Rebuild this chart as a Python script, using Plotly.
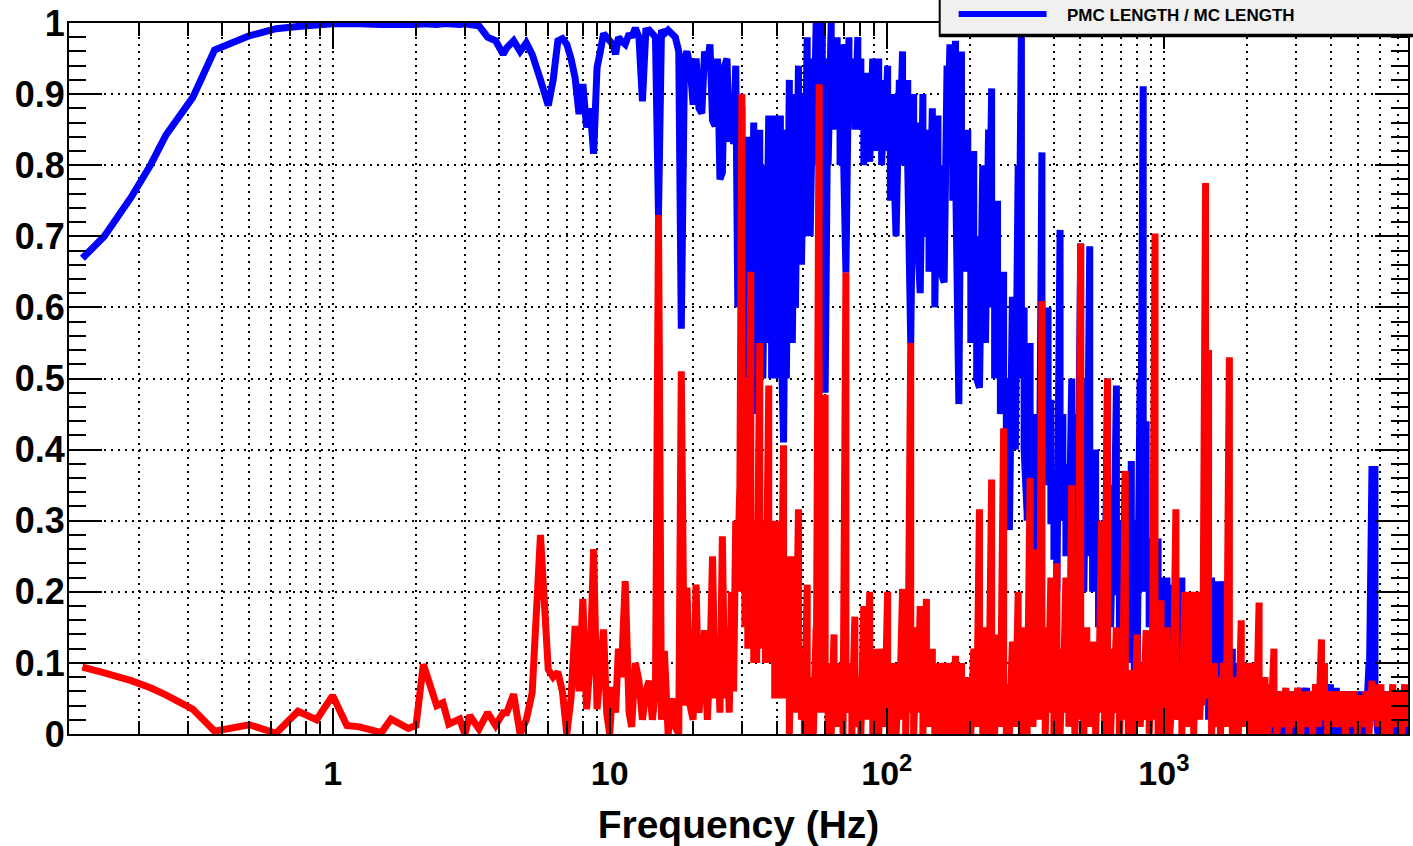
import plotly.graph_objects as go

# ---------------- data ----------------
# Low band (0.125 - 6.75 Hz)
FREQ_LOW = [0.125, 0.15, 0.1875, 0.22, 0.25, 0.3125, 0.375, 0.5, 0.625, 0.75,
            0.875, 1.0, 1.125, 1.25, 1.5, 1.625, 1.875, 2.0, 2.125, 2.375,
            2.5, 2.625, 2.875, 3.0, 3.125, 3.375, 3.625, 3.875, 4.125, 4.25,
            4.5, 4.75, 5.0, 5.25, 5.625, 6.0, 6.25, 6.5, 6.75]
BLUE_LOW = [0.669, 0.70, 0.755, 0.80, 0.842, 0.895, 0.962, 0.982, 0.992, 0.995,
            0.997, 0.999, 0.999, 0.999, 0.998, 0.998, 0.998, 0.998, 0.999, 0.998,
            0.999, 0.999, 0.998, 0.999, 0.998, 0.996, 0.98, 0.975, 0.956, 0.965,
            0.975, 0.96, 0.972, 0.956, 0.92, 0.884, 0.92, 0.975, 0.978]
RED_LOW = [0.094, 0.086, 0.075, 0.065, 0.055, 0.035, 0.004, 0.013, 0.001, 0.032,
           0.02, 0.054, 0.012, 0.01, 0.002, 0.021, 0.008, 0.012, 0.098, 0.04,
           0.044, 0.014, 0.021, 0.0, 0.026, 0.007, 0.03, 0.012, 0.03, 0.03,
           0.056, 0.0, 0.02, 0.058, 0.28, 0.091, 0.08, 0.087, 0.06]

# Middle band (7 - 29.5 Hz)
FREQ_MID = [7.0, 7.25, 7.5, 7.75, 8.0, 8.25, 8.5, 8.75, 9.0, 9.25,
            9.5, 9.75, 10.0, 10.25, 10.5, 10.75, 11.0, 11.375, 11.75, 12.0,
            12.375, 12.75, 13.125, 13.5, 13.875, 14.25, 14.625, 15.0, 15.375, 15.75,
            16.25, 16.75, 17.25, 17.75, 18.125, 18.625, 19.0, 19.5, 20.0, 20.5,
            21.0, 21.5, 22.0, 22.5, 23.0, 23.5, 24.0, 24.5, 25.0, 25.5,
            26.0, 26.5, 27.0, 27.5, 28.0, 28.5, 29.0, 29.5]
BLUE_MID = [0.97, 0.95, 0.923, 0.872, 0.914, 0.853, 0.88, 0.816, 0.937, 0.96,
            0.985, 0.98, 0.975, 0.97, 0.956, 0.98, 0.975, 0.97, 0.985, 0.98,
            0.993, 0.98, 0.89, 0.989, 0.99, 0.985, 0.98, 0.73, 0.99, 0.985,
            0.99, 0.985, 0.98, 0.96, 0.57, 0.95, 0.96, 0.94, 0.885, 0.95,
            0.88, 0.873, 0.96, 0.94, 0.97, 0.863, 0.855, 0.95, 0.78, 0.79,
            0.94, 0.95, 0.833, 0.87, 0.83, 0.94, 0.6, 0.9]
RED_MID = [0.0, 0.05, 0.152, 0.06, 0.19, 0.035, 0.1, 0.26, 0.035, 0.09,
           0.147, 0.03, 0.0, 0.066, 0.03, 0.12, 0.08, 0.215, 0.03, 0.01,
           0.1, 0.075, 0.02, 0.06, 0.075, 0.02, 0.06, 0.73, 0.02, 0.117,
           0.0, 0.05, 0.01, 0.0, 0.51, 0.04, 0.206, 0.04, 0.02, 0.21,
           0.03, 0.08, 0.146, 0.02, 0.1, 0.25, 0.05, 0.12, 0.03, 0.278,
           0.05, 0.15, 0.03, 0.2, 0.06, 0.3, 0.24, 0.35]

# High band (30 Hz - 7.6 kHz): dense bins, each read as a local maximum and a local minimum
FREQ_HIGH = [30, 30.75, 31.5, 32.3, 33.1, 33.9, 34.8, 35.7, 36.5, 37.5,
             38.4, 39.4, 40.3, 41.3, 42.4, 43.4, 44.5, 45.6, 46.8, 48.0,
             49.2, 50.4, 51.6, 52.9, 54.3, 55.6, 57.0, 58.5, 59.9, 61.4,
             63.0, 64.5, 66.2, 67.8, 69.5, 71.2, 73.0, 74.8, 76.7, 78.6,
             80.6, 82.6, 84.7, 86.8, 89.0, 91.2, 93.5, 95.8, 98.2, 100.7,
             103, 106, 108, 111, 114, 117, 119, 122, 125, 129,
             132, 135, 139, 142, 146, 149, 153, 157, 161, 165,
             169, 173, 177, 182, 186, 191, 196, 201, 206, 211,
             216, 222, 227, 233, 239, 245, 251, 257, 264, 270,
             277, 284, 291, 298, 306, 313, 321, 329, 337, 346,
             355, 363, 373, 382, 391, 401, 411, 422, 432, 443,
             454, 465, 477, 489, 501, 514, 527, 540, 553, 567,
             581, 596, 611, 626, 642, 658, 674, 691, 708, 726,
             744, 763, 782, 801, 821, 842, 863, 885, 907, 929,
             953, 976, 1001, 1026, 1051, 1078, 1105, 1132, 1161, 1190,
             1219, 1250, 1281, 1313, 1346, 1380, 1414, 1450, 1486, 1523,
             1561, 1600, 1640, 1681, 1723, 1766, 1811, 1856, 1902, 1950,
             1999, 2049, 2100, 2152, 2206, 2261, 2318, 2376, 2435, 2496,
             2558, 2622, 2688, 2755, 2824, 2895, 2967, 3041, 3117, 3195,
             3275, 3357, 3441, 3527, 3615, 3705, 3798, 3893, 3990, 4090,
             4192, 4297, 4404, 4514, 4627, 4743, 4861, 4983, 5107, 5235,
             5366, 5500, 5637, 5778, 5923, 6071, 6223, 6378, 6538, 6701,
             6869, 7040, 7216, 7397, 7582]
BLUE_HIGH_MAX = [0.88, 0.8, 0.84, 0.78, 0.86, 0.81, 0.85, 0.8, 0.8, 0.87,
                 0.8, 0.87, 0.82, 0.87, 0.41, 0.85, 0.92, 0.86, 0.9, 0.94,
                 0.9, 0.9, 0.98, 0.9, 0.95, 1.0, 0.95, 1.0, 0.48, 0.95,
                 1.0, 0.95, 0.98, 0.9, 0.97, 0.649, 0.98, 0.95, 0.92, 0.98,
                 0.95, 0.9, 0.93, 0.805, 0.95, 0.9, 0.95, 0.88, 0.92, 0.94,
                 0.85, 0.9, 0.70, 0.92, 0.96, 0.9, 0.92, 0.55, 0.9, 0.86,
                 0.62, 0.9, 0.85, 0.71, 0.88, 0.8, 0.87, 0.8, 0.635, 0.94,
                 0.97, 0.9, 0.975, 0.464, 0.96, 0.8, 0.85, 0.75, 0.82, 0.7,
                 0.487, 0.8, 0.75, 0.85, 0.908, 0.7, 0.75, 0.6, 0.65, 0.5,
                 0.287, 0.615, 0.6, 0.8, 0.99, 0.6, 0.31, 0.55, 0.45, 0.4,
                 0.45, 0.818, 0.45, 0.6, 0.47, 0.3, 0.25, 0.709, 0.45, 0.35,
                 0.38, 0.5, 0.2, 0.45, 0.69, 0.37, 0.5, 0.686, 0.3, 0.4,
                 0.26, 0.3, 0.2, 0.5, 0.25, 0.35, 0.49, 0.2, 0.3, 0.37,
                 0.26, 0.384, 0.1, 0.3, 0.5, 0.911, 0.44, 0.275, 0.26, 0.275,
                 0.275, 0.22, 0.15, 0.22, 0.21, 0.1, 0.22, 0.05, 0.22, 0.17,
                 0.05, 0.18, 0.05, 0.18, 0.1, 0.18, 0.18, 0.05, 0.22, 0.04,
                 0.215, 0.06, 0.215, 0.1, 0.12, 0.12, 0.03, 0.1, 0.1, 0.04,
                 0.1, 0.02, 0.08, 0.02, 0.08, 0.08, 0.02, 0.07, 0.03, 0.06,
                 0.06, 0.0, 0.06, 0.01, 0.06, 0.0, 0.06, 0.02, 0.065, 0.0,
                 0.065, 0.0, 0.06, 0.02, 0.06, 0.03, 0.06, 0.01, 0.07, 0.0,
                 0.065, 0.0, 0.06, 0.02, 0.06, 0.0, 0.06, -0.01, 0.06, 0.0,
                 0.06, 0.1, 0.377, 0.377, 0.0, 0.06, 0.01, 0.06, 0.0, 0.06,
                 0.0, 0.06, 0.0, 0.06, 0.02]
BLUE_HIGH_MIN = [0.6, 0.5, 0.55, 0.5, 0.45, 0.55, 0.5, 0.5, 0.55, 0.55,
                 0.5, 0.55, 0.5, 0.6, 0.41, 0.5, 0.6, 0.55, 0.6, 0.66,
                 0.66, 0.7, 0.75, 0.7, 0.8, 0.85, 0.9, 0.9, 0.48, 0.8,
                 0.85, 0.85, 0.9, 0.8, 0.85, 0.649, 0.9, 0.88, 0.85, 0.9,
                 0.85, 0.8, 0.85, 0.805, 0.85, 0.82, 0.85, 0.8, 0.82, 0.85,
                 0.75, 0.8, 0.70, 0.8, 0.85, 0.8, 0.8, 0.55, 0.75, 0.7,
                 0.62, 0.75, 0.7, 0.65, 0.75, 0.6, 0.7, 0.65, 0.635, 0.8,
                 0.85, 0.75, 0.8, 0.464, 0.8, 0.65, 0.7, 0.55, 0.6, 0.5,
                 0.487, 0.6, 0.55, 0.6, 0.7, 0.5, 0.55, 0.45, 0.45, 0.35,
                 0.287, 0.45, 0.4, 0.5, 0.55, 0.4, 0.3, 0.35, 0.3, 0.25,
                 0.3, 0.4, 0.35, 0.35, 0.3, 0.25, 0.2, 0.3, 0.3, 0.25,
                 0.25, 0.3, 0.15, 0.25, 0.3, 0.2, 0.25, 0.3, 0.2, 0.2,
                 0.15, 0.2, 0.1, 0.2, 0.15, 0.2, 0.2, 0.1, 0.15, 0.2,
                 0.1, 0.2, 0.05, 0.1, 0.2, 0.3, 0.2, 0.15, 0.15, 0.1,
                 0.1, 0.1, 0.05, 0.1, 0.1, 0.05, 0.1, 0.02, 0.1, 0.05,
                 0.02, 0.05, 0.02, 0.05, 0.03, 0.05, 0.05, 0.02, 0.05, 0.01,
                 0.05, 0.02, 0.05, 0.03, 0.03, 0.03, 0.01, 0.03, 0.02, 0.01,
                 0.02, 0.0, 0.02, 0.0, 0.02, 0.02, 0.0, 0.02, 0.0, 0.01,
                 0.01, -0.01, 0.01, 0.0, 0.01, -0.01, 0.01, 0.0, 0.01, -0.01,
                 0.01, -0.01, 0.01, 0.0, 0.01, 0.0, 0.01, -0.01, 0.01, -0.01,
                 0.01, -0.01, 0.01, 0.0, 0.01, -0.01, 0.01, -0.01, 0.01, -0.01,
                 0.01, 0.03, 0.05, 0.05, -0.01, 0.01, 0.0, 0.01, -0.01, 0.01,
                 -0.01, 0.01, -0.01, 0.01, 0.0]
RED_HIGH_MAX = [0.9, 0.35, 0.5, 0.65, 0.3, 0.25, 0.55, 0.3, 0.2, 0.49,
                0.3, 0.2, 0.3, 0.2, 0.406, 0.25, 0.12, 0.25, 0.15, 0.316,
                0.12, 0.06, 0.21, 0.08, 0.05, 0.15, 0.914, 0.3, 0.477, 0.1,
                0.06, 0.14, 0.07, 0.1, 0.06, 0.649, 0.1, 0.06, 0.165, 0.08,
                0.05, 0.18, 0.08, 0.2, 0.06, 0.12, 0.05, 0.12, 0.07, 0.2,
                0.07, 0.1, 0.05, 0.1, 0.204, 0.08, 0.12, 0.55, 0.06, 0.15,
                0.18, 0.07, 0.19, 0.08, 0.12, 0.06, 0.1, 0.07, 0.1, 0.05,
                0.1, 0.07, 0.11, 0.08, 0.1, 0.05, 0.08, 0.06, 0.12, 0.08,
                0.316, 0.07, 0.15, 0.08, 0.358, 0.07, 0.14, 0.08, 0.43, 0.07,
                0.06, 0.13, 0.08, 0.2, 0.07, 0.15, 0.05, 0.36, 0.08, 0.26,
                0.1, 0.609, 0.08, 0.15, 0.22, 0.07, 0.24, 0.06, 0.12, 0.22,
                0.08, 0.35, 0.06, 0.1, 0.69, 0.07, 0.15, 0.08, 0.13, 0.05,
                0.13, 0.3, 0.08, 0.5, 0.06, 0.12, 0.15, 0.07, 0.1, 0.37,
                0.07, 0.09, 0.05, 0.14, 0.08, 0.1, 0.146, 0.07, 0.1, 0.704,
                0.06, 0.188, 0.07, 0.15, 0.05, 0.08, 0.316, 0.1, 0.06, 0.2,
                0.08, 0.2, 0.06, 0.2, 0.1, 0.2, 0.775, 0.54, 0.06, 0.1,
                0.08, 0.06, 0.1, 0.07, 0.53, 0.05, 0.08, 0.06, 0.16, 0.07,
                0.1, 0.05, 0.1, 0.06, 0.185, 0.05, 0.08, 0.05, 0.07, 0.12,
                0.04, 0.06, 0.04, 0.065, 0.03, 0.06, 0.04, 0.065, 0.03, 0.06,
                0.04, 0.06, 0.03, 0.07, 0.04, 0.133, 0.1, 0.03, 0.06, 0.04,
                0.06, 0.04, 0.06, 0.03, 0.06, 0.04, 0.06, 0.03, 0.055, 0.04,
                0.06, 0.03, 0.075, 0.07, 0.04, 0.07, 0.03, 0.06, 0.03, 0.07,
                0.04, 0.06, 0.04, 0.07, 0.04]
RED_HIGH_MIN = [0.2, 0.15, 0.12, 0.2, 0.1, 0.1, 0.15, 0.12, 0.1, 0.15,
                0.1, 0.05, 0.1, 0.05, 0.1, 0.05, 0.0, 0.05, 0.03, 0.1,
                0.02, 0.0, 0.03, 0.0, 0.0, 0.03, 0.05, 0.03, 0.05, 0.0,
                0.0, 0.03, 0.01, 0.03, 0.0, 0.03, 0.03, 0.0, 0.04, 0.01,
                0.0, 0.04, 0.02, 0.05, 0.0, 0.03, 0.0, 0.03, 0.01, 0.04,
                0.0, 0.03, 0.0, 0.02, 0.05, 0.0, 0.03, 0.04, 0.0, 0.03,
                0.04, 0.0, 0.04, 0.01, 0.03, 0.0, 0.02, 0.0, 0.02, 0.0,
                0.03, 0.0, 0.03, 0.0, 0.02, 0.0, 0.02, 0.0, 0.03, 0.01,
                0.04, 0.0, 0.03, 0.0, 0.05, 0.0, 0.03, 0.01, 0.05, 0.0,
                0.0, 0.03, 0.01, 0.04, 0.0, 0.02, 0.0, 0.05, 0.01, 0.04,
                0.02, 0.06, 0.0, 0.03, 0.04, 0.0, 0.04, 0.0, 0.03, 0.04,
                0.01, 0.05, 0.0, 0.02, 0.06, 0.0, 0.03, 0.01, 0.03, 0.0,
                0.03, 0.04, 0.0, 0.05, 0.0, 0.03, 0.03, 0.0, 0.02, 0.05,
                0.0, 0.02, 0.0, 0.03, 0.01, 0.02, 0.03, 0.0, 0.02, 0.06,
                0.0, 0.04, 0.0, 0.03, 0.0, 0.02, 0.05, 0.02, 0.0, 0.04,
                0.01, 0.04, 0.0, 0.04, 0.02, 0.04, 0.06, 0.05, 0.0, 0.02,
                0.01, 0.0, 0.02, 0.01, 0.05, 0.0, 0.02, 0.0, 0.03, 0.01,
                0.02, 0.0, 0.02, 0.0, 0.03, 0.0, 0.02, 0.0, 0.01, 0.03,
                0.0, 0.02, 0.01, 0.02, 0.0, 0.02, 0.01, 0.02, 0.0, 0.02,
                0.01, 0.02, 0.0, 0.02, 0.01, 0.03, 0.02, 0.0, 0.02, 0.01,
                0.02, 0.01, 0.02, 0.0, 0.02, 0.01, 0.02, 0.0, 0.02, 0.01,
                0.02, 0.0, 0.02, 0.02, 0.01, 0.02, 0.0, 0.02, 0.0, 0.02,
                0.01, 0.02, 0.0, 0.02, 0.01]

BLUE_NAME = "PMC LENGTH / MC LENGTH"
RED_NAME = "SECOND CHANNEL"
X_TITLE = "Frequency (Hz)"
X_TICKS = [1, 10, 100, 1000]
X_TICK_TEXT = ["1", "10", "10<sup>2</sup>", "10<sup>3</sup>"]
X_MINOR = [0.2, 0.3, 0.4, 0.5, 0.6, 0.7, 0.8, 0.9,
           2, 3, 4, 5, 6, 7, 8, 9,
           20, 30, 40, 50, 60, 70, 80, 90,
           200, 300, 400, 500, 600, 700, 800, 900,
           2000, 3000, 4000, 5000, 6000, 7000]
Y_TICKS = [0, 0.1, 0.2, 0.3, 0.4, 0.5, 0.6, 0.7, 0.8, 0.9, 1.0]
Y_TICK_TEXT = ["0", "0.1", "0.2", "0.3", "0.4", "0.5", "0.6", "0.7", "0.8", "0.9", "1"]

n = len(FREQ_HIGH)
assert n == len(BLUE_HIGH_MAX) == len(BLUE_HIGH_MIN) == len(RED_HIGH_MAX) == len(RED_HIGH_MIN), \
    (n, len(BLUE_HIGH_MAX), len(BLUE_HIGH_MIN), len(RED_HIGH_MAX), len(RED_HIGH_MIN))


def series(low_f, low_v, mid_f, mid_v, hi_f, hi_max, hi_min):
    """Low/mid bands as plain points; dense band as (max, min) pairs per bin."""
    xs = list(low_f) + list(mid_f)
    ys = list(low_v) + list(mid_v)
    for f, top, bot in zip(hi_f, hi_max, hi_min):
        xs += [f, f]
        ys += [top, bot]
    return xs, ys


bx, by = series(FREQ_LOW, BLUE_LOW, FREQ_MID, BLUE_MID, FREQ_HIGH, BLUE_HIGH_MAX, BLUE_HIGH_MIN)
rx, ry = series(FREQ_LOW, RED_LOW, FREQ_MID, RED_MID, FREQ_HIGH, RED_HIGH_MAX, RED_HIGH_MIN)

FONT = "Liberation Sans"

fig = go.Figure()
fig.add_trace(go.Scatter(x=bx, y=by, mode="lines", name=BLUE_NAME,
                         line=dict(color="#0000ff", width=7, simplify=False)))
fig.add_trace(go.Scatter(x=rx, y=ry, mode="lines", name=RED_NAME,
                         line=dict(color="#ff0000", width=7, simplify=False)))

# Plot-area geometry (pixels) used to place the legend box in paper units
L, R, T, B = 69, 1410, 22, 734
PW, PH = R - L, B - T


def px(x):
    return (x - L) / PW


def py(y):
    return (B - y) / PH


fig.update_layout(
    width=1413, height=846,
    margin=dict(l=L, r=1413 - R, t=T, b=846 - B),
    paper_bgcolor="white", plot_bgcolor="white",
    showlegend=False,
    font=dict(family=FONT, color="black"),
    xaxis=dict(
        type="log", range=[-0.9514, 3.881],
        tickmode="array", tickvals=X_TICKS, ticktext=X_TICK_TEXT,
        ticks="inside", ticklen=26, tickwidth=2, tickcolor="black",
        showline=True, linecolor="black", linewidth=2, mirror="allticks",
        showgrid=True, gridcolor="black", gridwidth=1.5, griddash="2px,5px",
        tickfont=dict(family=FONT, size=34, weight="bold"),
        ticklabelstandoff=8,
        minor=dict(tickmode="array", tickvals=X_MINOR, ticks="inside", ticklen=13,
                   tickwidth=2, tickcolor="black", showgrid=True,
                   gridcolor="black", gridwidth=1.5, griddash="2px,5px"),
        title=dict(text=X_TITLE, font=dict(family=FONT, size=39, weight="bold"),
                   standoff=20),
        zeroline=False,
    ),
    yaxis=dict(
        range=[0, 1],
        tickmode="array", tickvals=Y_TICKS, ticktext=Y_TICK_TEXT,
        ticks="inside", ticklen=33, tickwidth=2, tickcolor="black",
        showline=True, linecolor="black", linewidth=2, mirror="allticks",
        showgrid=True, gridcolor="black", gridwidth=1.5, griddash="2px,5px",
        tickfont=dict(family=FONT, size=36, weight="bold"),
        ticklabelstandoff=-5,
        minor=dict(dtick=0.02, ticks="inside", ticklen=17, tickwidth=2,
                   tickcolor="black", showgrid=False),
        zeroline=False,
    ),
)

# ROOT-style legend box (partly outside the canvas, as in the reference)
fig.add_shape(type="rect", xref="paper", yref="paper",
              x0=px(941), x1=px(1430), y0=py(35), y1=py(-12),
              fillcolor="#f0f0f0", line=dict(color="black", width=2), layer="above")
fig.add_shape(type="line", xref="paper", yref="paper",
              x0=px(941), x1=px(1430), y0=py(34.5), y1=py(34.5),
              line=dict(color="black", width=3.5), layer="above")
fig.add_shape(type="line", xref="paper", yref="paper",
              x0=px(960), x1=px(1048), y0=py(13), y1=py(13),
              line=dict(color="#0000ff", width=6), layer="above")
fig.add_annotation(xref="paper", yref="paper", x=px(1066), y=py(14),
                   xanchor="left", yanchor="middle", showarrow=False,
                   text=BLUE_NAME,
                   font=dict(family=FONT, size=17, weight="bold", color="black"))

fig.write_html("out.html", config={"displayModeBar": False},
               post_script="document.body.style.margin='0px';")
